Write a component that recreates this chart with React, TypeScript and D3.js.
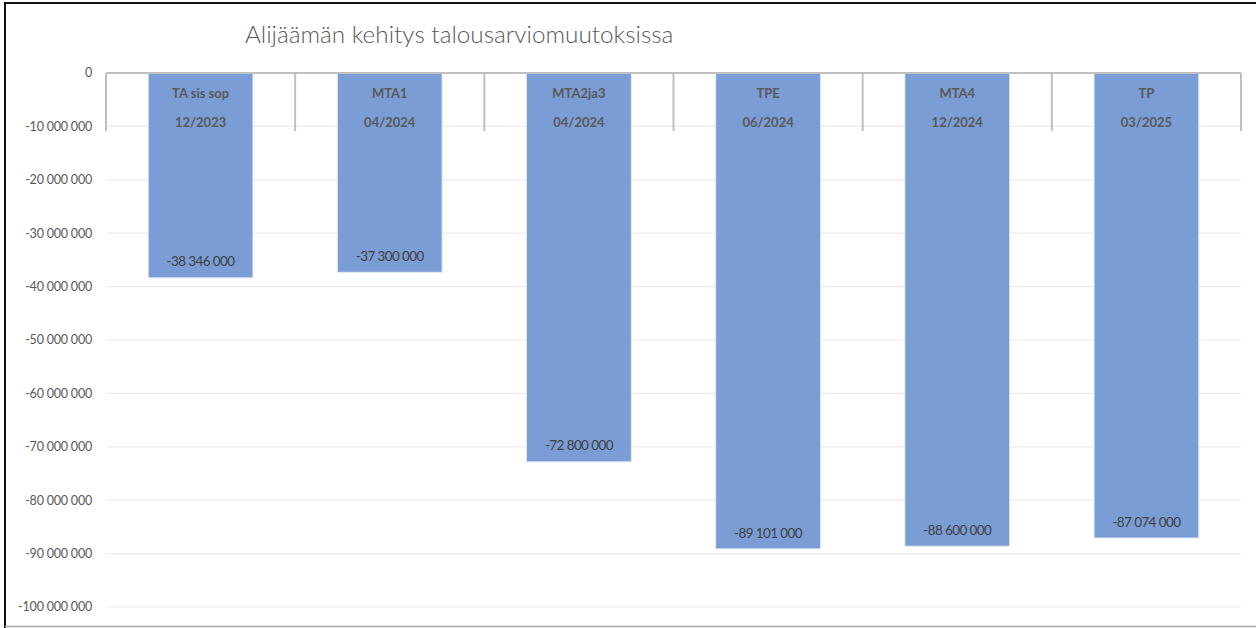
import React, { useEffect, useRef } from 'react';
import * as d3 from 'd3';

const TITLE = 'Alijäämän kehitys talousarviomuutoksissa';
const categoryNames = ['TA sis sop', 'MTA1', 'MTA2ja3', 'TPE', 'MTA4', 'TP'];
const categoryDates = ['12/2023', '04/2024', '04/2024', '06/2024', '12/2024', '03/2025'];
const deficitValues = [-38346000, -37300000, -72800000, -89101000, -88600000, -87074000];
const yTicks = [0, -10000000, -20000000, -30000000, -40000000, -50000000, -60000000, -70000000, -80000000, -90000000, -100000000];

const WIDTH = 1256;
const HEIGHT = 628;
const FONT = "Lato, 'Open Sans', 'DejaVu Sans', sans-serif";

// "-38 346 000" style, spaces as thousands separator
const fmt = (v: number) => {
  const s = d3.format(',')(v).replace(/,/g, ' ');
  return s.replace('−', '-');
};

const App: React.FC = () => {
  const ref = useRef<SVGSVGElement>(null);

  useEffect(() => {
    if (!ref.current) return;
    const svg = d3.select(ref.current);
    svg.selectAll('*').remove();

    const plot = { left: 106, right: 1241, top: 73, bottom: 607 };

    const x = d3
      .scaleBand<string>()
      .domain(categoryNames)
      .range([plot.left, plot.right])
      .paddingInner(0.447)
      .paddingOuter(0.2235);

    const y = d3.scaleLinear().domain([-100000000, 0]).range([plot.bottom, plot.top]);

    svg.append('rect').attr('width', WIDTH).attr('height', HEIGHT).attr('fill', '#fff');

    // gridlines
    svg
      .append('g')
      .selectAll('line')
      .data(yTicks.filter((t) => t !== 0))
      .enter()
      .append('line')
      .attr('x1', plot.left)
      .attr('x2', plot.right)
      .attr('y1', (d) => y(d))
      .attr('y2', (d) => y(d))
      .attr('stroke', '#ececec')
      .attr('stroke-width', 1.2);

    // y tick labels
    svg
      .append('g')
      .selectAll('text')
      .data(yTicks)
      .enter()
      .append('text')
      .attr('x', 92)
      .attr('y', (d) => y(d))
      .attr('dy', '0.35em')
      .attr('text-anchor', 'end')
      .attr('fill', '#595959')
      .style('font-family', FONT)
      .style('font-size', '12.5px')
      .style('letter-spacing', '-0.2px')
      .text((d) => fmt(d));

    // bars
    svg
      .append('g')
      .selectAll('rect')
      .data(deficitValues)
      .enter()
      .append('rect')
      .attr('x', (_d, i) => x(categoryNames[i]) ?? 0)
      .attr('y', y(0))
      .attr('width', x.bandwidth())
      .attr('height', (d) => y(d) - y(0))
      .attr('fill', '#7b9dd5')
      .attr('stroke', '#dfe7f5')
      .attr('stroke-width', 0.8);

    // category axis line + tall ticks
    const step = x.step();
    const axis = svg.append('g');
    axis
      .append('line')
      .attr('x1', plot.left)
      .attr('x2', plot.right)
      .attr('y1', y(0))
      .attr('y2', y(0))
      .attr('stroke', '#bfbfbf')
      .attr('stroke-width', 2);
    axis
      .selectAll('line.tick')
      .data(d3.range(categoryNames.length + 1))
      .enter()
      .append('line')
      .attr('class', 'tick')
      .attr('x1', (i) => plot.left + i * step)
      .attr('x2', (i) => plot.left + i * step)
      .attr('y1', y(0))
      .attr('y2', y(0) + 58)
      .attr('stroke', '#bfbfbf')
      .attr('stroke-width', 2);

    // category labels (two levels)
    const labels = svg.append('g').style('font-family', FONT).style('font-weight', 'bold').attr('fill', '#595959');
    labels
      .selectAll('text.name')
      .data(categoryNames)
      .enter()
      .append('text')
      .attr('class', 'name')
      .attr('x', (d) => (x(d) ?? 0) + x.bandwidth() / 2)
      .attr('y', y(0) + 20)
      .attr('dy', '0.35em')
      .attr('text-anchor', 'middle')
      .style('font-size', '13px')
      .text((d) => d);
    labels
      .selectAll('text.date')
      .data(categoryDates)
      .enter()
      .append('text')
      .attr('class', 'date')
      .attr('x', (_d, i) => (x(categoryNames[i]) ?? 0) + x.bandwidth() / 2)
      .attr('y', y(0) + 49)
      .attr('dy', '0.35em')
      .attr('text-anchor', 'middle')
      .style('font-size', '13px')
      .text((d) => d);

    // value labels at inside end
    svg
      .append('g')
      .selectAll('text')
      .data(deficitValues)
      .enter()
      .append('text')
      .attr('x', (_d, i) => (x(categoryNames[i]) ?? 0) + x.bandwidth() / 2)
      .attr('y', (d) => y(d) - 16)
      .attr('dy', '0.35em')
      .attr('text-anchor', 'middle')
      .attr('fill', '#404040')
      .style('font-family', FONT)
      .style('font-size', '13.5px')
      .style('letter-spacing', '-0.6px')
      .text((d) => fmt(d));

    // title
    svg
      .append('text')
      .attr('x', 245)
      .attr('y', 43)
      .attr('fill', '#595959')
      .style('font-family', FONT)
      .style('font-weight', 300)
      .style('font-size', '24.3px')
      .text(TITLE);

    // frame
    svg.append('line').attr('x1', 5).attr('x2', 5).attr('y1', 3).attr('y2', HEIGHT).attr('stroke', '#111').attr('stroke-width', 2);
    svg.append('line').attr('x1', 4).attr('x2', WIDTH).attr('y1', 3).attr('y2', 3).attr('stroke', '#111').attr('stroke-width', 2);
    svg.append('line').attr('x1', 5).attr('x2', WIDTH).attr('y1', 626.5).attr('y2', 626.5).attr('stroke', '#a6a6a6').attr('stroke-width', 1.5);
  }, []);

  return (
    <svg
      ref={ref}
      width={WIDTH}
      height={HEIGHT}
      style={{ position: 'absolute', left: 0, top: 0, display: 'block' }}
    />
  );
};

export default App;
